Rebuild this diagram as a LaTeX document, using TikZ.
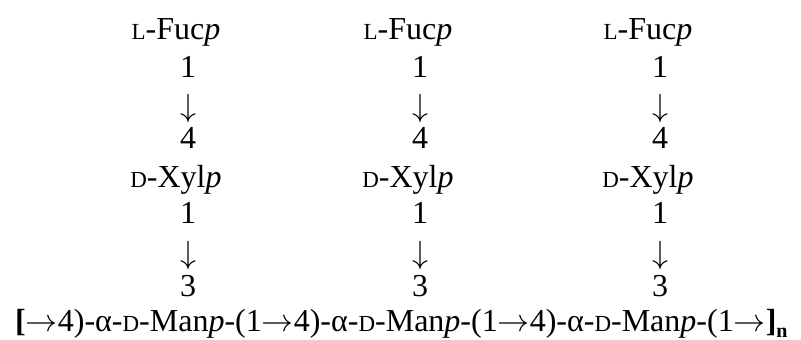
\documentclass[tikz,border=0pt]{standalone}
\usepackage{fix-cm}
\usepackage{fontspec}
\setmainfont{Liberation Serif}
\usepackage{tikz}

\newcommand{\smcap}[1]{{\fontsize{23}{23}\selectfont #1}}
\newcommand{\lsug}[1]{\smcap{L}-#1}
\newcommand{\dsug}[1]{\smcap{D}-#1}
\newcommand{\linkto}{$\rightarrow$}
\newcommand{\linkdown}{$\downarrow$}
\newcommand{\manunit}{-α-\smcap{D}-Man\textit{p}-(1}

\tikzset{
    txt/.style={inner sep=0pt, anchor=base, font=\fontsize{32}{36}\selectfont},
}

\begin{document}
\begin{tikzpicture}[x=1pt, y=-1pt]
            \useasboundingbox (0,0) rectangle (801,340);
            \coordinate (A) at (188,0);
            \coordinate (B) at (420,0);
            \coordinate (C) at (660,0);

            % first branch
            \node[txt] (fucA) at ([xshift=-12pt]A |- 0,39) {\lsug{Fuc\textit{p}}};
            \node[txt] (oneA) at (A |- 0,77) {1};
            \node[txt] (arrA) at (A |- 0,116) {\linkdown};
            \node[txt] (fourA) at (A |- 0,148) {4};
            \node[txt] (xylA) at ([xshift=-12pt]A |- 0,187) {\dsug{Xyl\textit{p}}};
            \node[txt] (oneA') at (A |- 0,223) {1};
            \node[txt] (arrA') at (A |- 0,263) {\linkdown};
            \node[txt] (threeA) at (A |- 0,296) {3};

            % second branch
            \node[txt] (fucB) at ([xshift=-12pt]B |- 0,39) {\lsug{Fuc\textit{p}}};
            \node[txt] (oneB) at (B |- 0,77) {1};
            \node[txt] (arrB) at (B |- 0,116) {\linkdown};
            \node[txt] (fourB) at (B |- 0,148) {4};
            \node[txt] (xylB) at ([xshift=-12pt]B |- 0,187) {\dsug{Xyl\textit{p}}};
            \node[txt] (oneB') at (B |- 0,223) {1};
            \node[txt] (arrB') at (B |- 0,263) {\linkdown};
            \node[txt] (threeB) at (B |- 0,296) {3};

            % third branch
            \node[txt] (fucC) at ([xshift=-12pt]C |- 0,39) {\lsug{Fuc\textit{p}}};
            \node[txt] (oneC) at (C |- 0,77) {1};
            \node[txt] (arrC) at (C |- 0,116) {\linkdown};
            \node[txt] (fourC) at (C |- 0,148) {4};
            \node[txt] (xylC) at ([xshift=-12pt]C |- 0,187) {\dsug{Xyl\textit{p}}};
            \node[txt] (oneC') at (C |- 0,223) {1};
            \node[txt] (arrC') at (C |- 0,263) {\linkdown};
            \node[txt] (threeC) at (C |- 0,296) {3};

            % backbone
            \node[txt, anchor=base west] (main) at (15,331) {\textbf{[}\linkto4)\manunit\linkto4)\manunit\linkto4)\manunit\linkto\textbf{]}\raisebox{-6pt}{\fontsize{20}{20}\selectfont\textbf{n}}};
        \end{tikzpicture}
\end{document}
